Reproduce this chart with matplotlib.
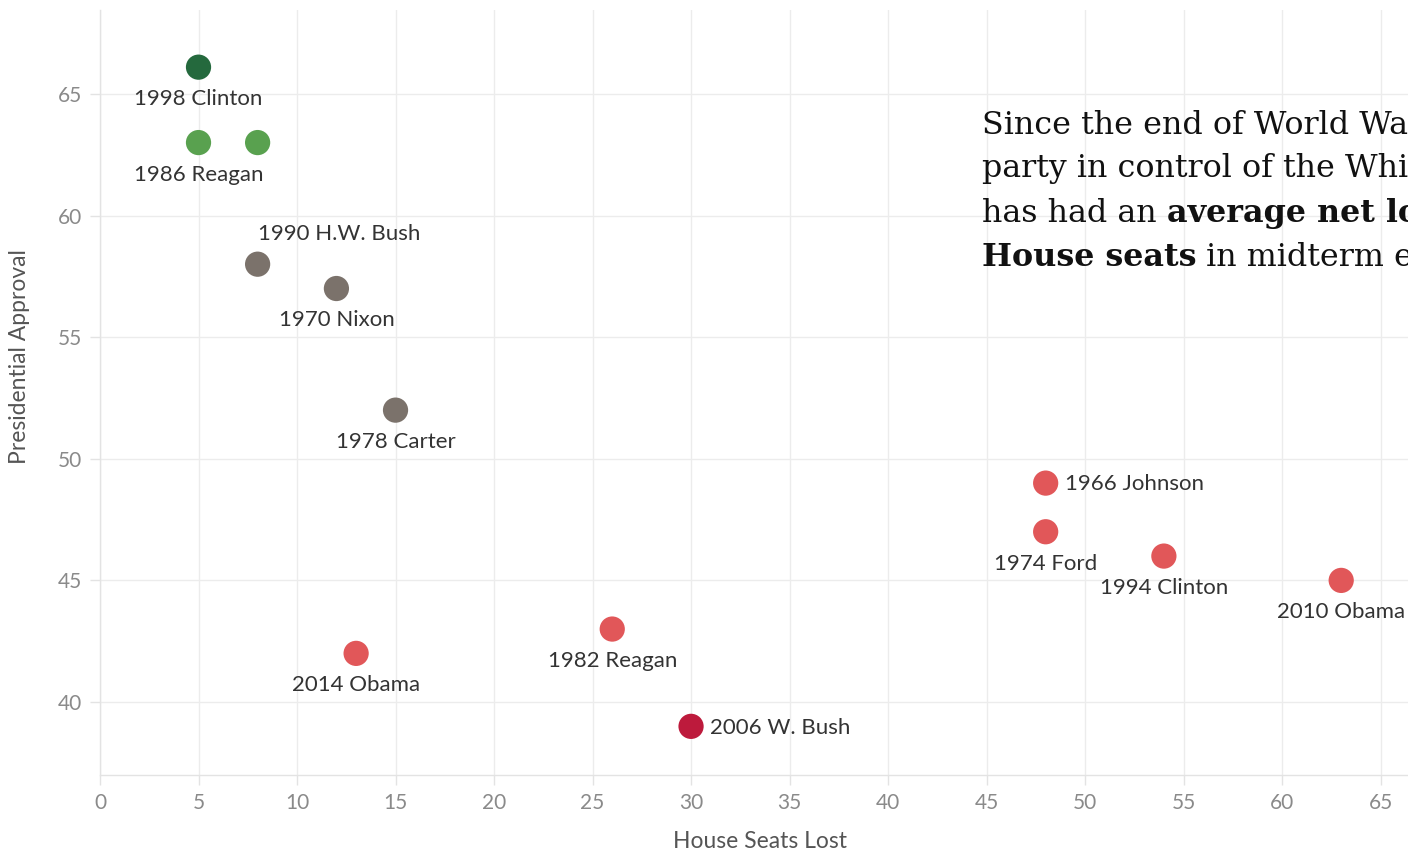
import matplotlib
matplotlib.use("Agg")
import matplotlib.pyplot as plt

# ---- data ----
seats_lost = [5, 5, 8, 8, 12, 15, 48, 48, 54, 63, 13, 26, 30]
approval   = [66.1, 63, 63, 58, 57, 52, 49, 47, 46, 45, 42, 43, 39]
labels     = ["1998 Clinton", "1986 Reagan", "", "1990 H.W. Bush", "1970 Nixon",
              "1978 Carter", "1966 Johnson", "1974 Ford", "1994 Clinton",
              "2010 Obama", "2014 Obama", "1982 Reagan", "2006 W. Bush"]
groups     = ["darkgreen", "green", "green", "gray", "gray", "gray", "red", "red",
              "red", "red", "red", "red", "darkred"]
label_pos  = ["below", "below", "none", "above", "below", "below", "right", "below",
              "below", "below", "below", "below", "right"]
x_ticks = [0, 5, 10, 15, 20, 25, 30, 35, 40, 45, 50, 55, 60, 65]
y_ticks = [40, 45, 50, 55, 60, 65]

colors = {"darkgreen": "#24693d", "green": "#59a14f", "gray": "#7b726b",
          "red": "#e15759", "darkred": "#bd1a3c"}

W, H = 1408, 852
fig = plt.figure(figsize=(W / 100, H / 100), dpi=100)
ax = fig.add_axes([100 / W, (H - 775) / H, 1320 / W, 765 / H])
ax.set_xlim(0, 67)
ax.set_ylim(37.0, 68.45)

sans = "Lato"
grid_c = "#ececec"
ax.set_xticks(x_ticks)
ax.set_yticks(y_ticks)
ax.grid(True, color=grid_c, linewidth=1)
ax.set_axisbelow(True)
for s in ["top", "right"]:
    ax.spines[s].set_visible(False)
for s in ["left", "bottom"]:
    ax.spines[s].set_color("#e3e3e3")
    ax.spines[s].set_linewidth(1)
ax.tick_params(axis="both", color="#e3e3e3", length=7, width=1,
               labelcolor="#8a8a8a", labelsize=15, pad=6)
for lab in ax.get_xticklabels() + ax.get_yticklabels():
    lab.set_fontfamily(sans)

ax.scatter(seats_lost, approval, s=330, c=[colors[g] for g in groups],
           linewidths=0, zorder=3, clip_on=False)

for x, y, lab, pos in zip(seats_lost, approval, labels, label_pos):
    if not lab:
        continue
    if pos == "below":
        off, ha, va = (0, -23), "center", "center"
    elif pos == "right":
        off, ha, va = (14, -1), "left", "center"
    else:
        off, ha, va = (0, 22), "left", "center"
    ax.annotate(lab, (x, y), xytext=off, textcoords="offset points",
                ha=ha, va=va, fontsize=16, color="#333333", fontfamily=sans)

fig.text(760 / W, 1 - 842 / H, "House Seats Lost", ha="center", va="center",
         fontsize=16.5, color="#555555", fontfamily=sans)
fig.text(20 / W, 1 - 357 / H, "Presidential Approval", ha="center", va="center",
         rotation=90, fontsize=16.5, color="#555555", fontfamily=sans)

# ---- annotation text block (mixed weights) ----
serif = "DejaVu Serif"
x0 = 982
renderer = fig.canvas.get_renderer()
# fit font size so that the first visible part spans the same width as the reference
probe = fig.text(0, 0, "Since the end of World Wa", fontsize=20, fontfamily=serif)
pw = probe.get_window_extent(renderer).width
probe.remove()
fs = 20 * 426 / pw

baselines = [133, 177.5, 222, 266.5]
lines = [
    [("Since the end of World War II, the", "normal")],
    [("party in control of the White House", "normal")],
    [("has had an ", "normal"), ("average net loss of 26", "bold")],
    [("House seats", "bold"), (" in midterm elections.", "normal")],
]
for base, segs in zip(baselines, lines):
    xp = x0
    for txt, wt in segs:
        t = fig.text(xp / W, 1 - base / H, txt, ha="left", va="baseline",
                     fontsize=fs, fontweight=wt, color="#111111", fontfamily=serif)
        bb = t.get_window_extent(renderer)
        xp = bb.x1

fig.savefig("out.png", dpi=100)
